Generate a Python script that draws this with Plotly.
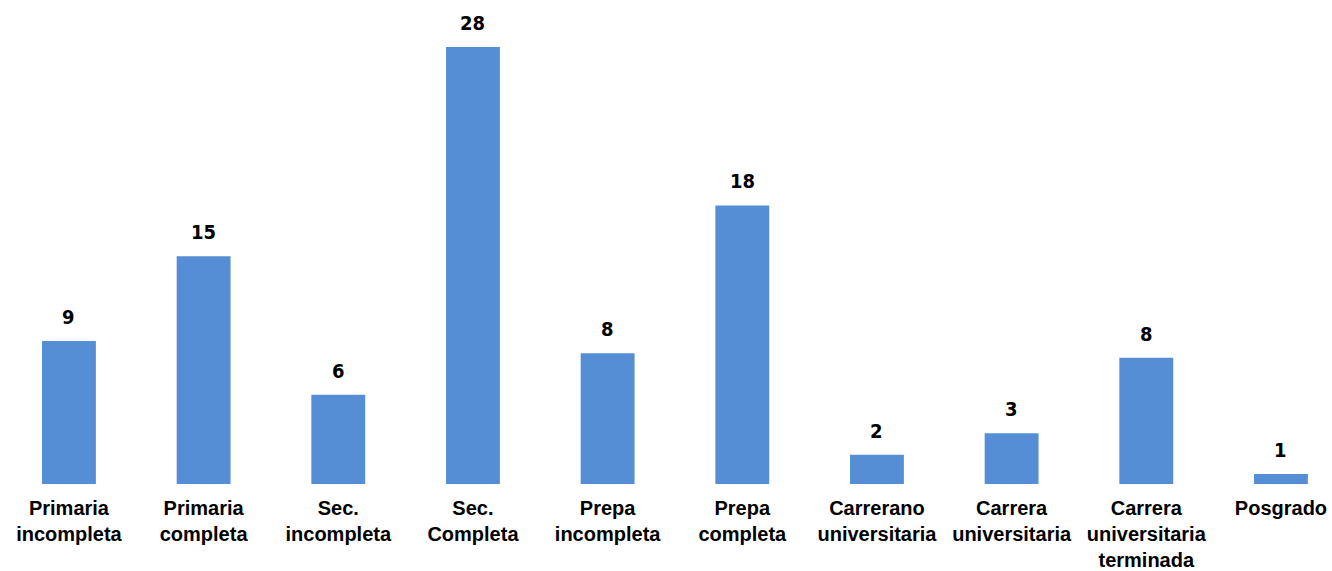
import plotly.graph_objects as go

categories = ["Primaria<br>incompleta", "Primaria<br>completa", "Sec.<br>incompleta", "Sec.<br>Completa",
              "Prepa<br>incompleta", "Prepa<br>completa", "Carrerano<br>universitaria",
              "Carrera<br>universitaria", "Carrera<br>universitaria<br>terminada", "Posgrado"]
values = [9.3, 14.8, 5.8, 28.4, 8.5, 18.1, 1.9, 3.3, 8.2, 0.65]
value_labels = ["9", "15", "6", "28", "8", "18", "2", "3", "8", "1"]

fig = go.Figure()
fig.add_trace(go.Bar(x=list(range(len(categories))), y=values, marker_color="#558ED5",
                     marker_line_width=0, hoverinfo="skip"))

for i, (v, t) in enumerate(zip(values, value_labels)):
    fig.add_annotation(x=i, y=v, text="<b>" + t + "</b>", showarrow=False, yanchor="bottom",
                       yshift=10, font=dict(family="DejaVu Sans Condensed, Liberation Sans Narrow, Arial", size=20, color="black"))

fig.update_layout(
    width=1332, height=571,
    margin=dict(l=0, r=0, t=10, b=84),
    plot_bgcolor="white", paper_bgcolor="white",
    bargap=0.6, showlegend=False,
    xaxis=dict(range=[-0.512, 9.379], tickmode="array", tickvals=list(range(len(categories))),
               ticktext=["<b>" + c + "</b>" for c in categories], showgrid=False, zeroline=False,
               showline=False, ticks="", ticklabelstandoff=10,
               tickfont=dict(family="Arial, Liberation Sans", size=20, color="black")),
    yaxis=dict(range=[0, 30.8], visible=False),
)
fig.write_html("out.html", config={"displayModeBar": False},
               post_script="document.body.style.margin='0';document.body.style.overflow='hidden';")
